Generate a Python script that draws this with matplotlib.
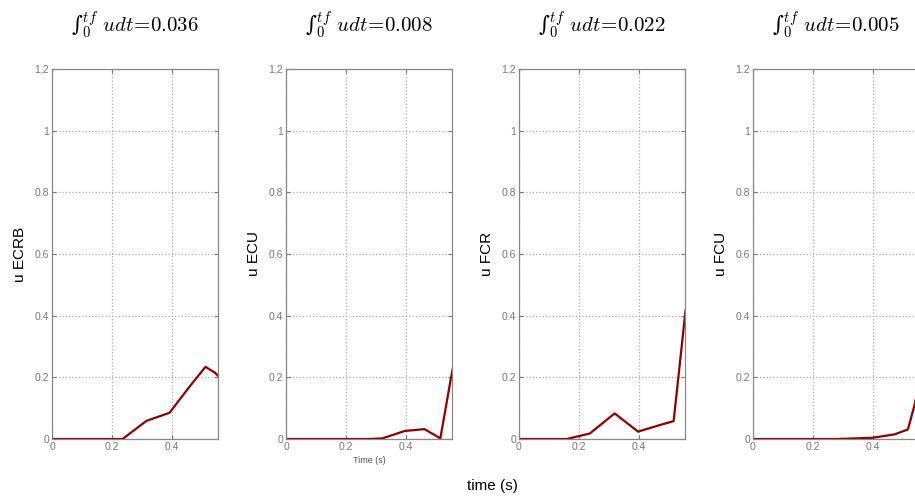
import matplotlib
matplotlib.use("Agg")
import matplotlib.pyplot as plt

plt.rcParams['mathtext.fontset'] = 'cm'
plt.rcParams['font.family'] = ['Liberation Sans', 'DejaVu Sans']

t_ecrb = [0, 0.08, 0.16, 0.236, 0.316, 0.393, 0.46, 0.513, 0.545, 0.56]
u_ecrb = [0, 0, 0, 0, 0.059, 0.085, 0.17, 0.234, 0.215, 0.2]

t_ecu = [0, 0.08, 0.16, 0.278, 0.322, 0.397, 0.463, 0.516, 0.552, 0.56]
u_ecu = [0, 0, 0, 0, 0.002, 0.026, 0.032, 0.002, 0.2, 0.24]

t_fcr = [0, 0.08, 0.16, 0.237, 0.32, 0.398, 0.47, 0.517, 0.557]
u_fcr = [0, 0, 0, 0.018, 0.083, 0.024, 0.045, 0.058, 0.418]

t_fcu = [0, 0.08, 0.16, 0.28, 0.4, 0.473, 0.518, 0.54, 0.56]
u_fcu = [0, 0, 0, 0, 0.004, 0.015, 0.031, 0.11, 0.2]

series = [(t_ecrb, u_ecrb), (t_ecu, u_ecu), (t_fcr, u_fcr), (t_fcu, u_fcu)]
ylabels = ['u ECRB', 'u ECU', 'u FCR', 'u FCU']
integrals = ['0.036', '0.008', '0.022', '0.005']
yticks = [0, 0.2, 0.4, 0.6, 0.8, 1, 1.2]
xticks = [0, 0.2, 0.4]

W, H = 915, 499
fig = plt.figure(figsize=(W / 100, H / 100), dpi=100)

lefts = [52, 286, 519, 753]
for i, (t, u) in enumerate(series):
    ax = fig.add_axes([lefts[i] / W, (H - 439) / H, 166 / W, 370 / H])
    ax.plot(t, u, color='#8b0000', lw=1.6)
    ax.set_xlim(0, 0.555)
    ax.set_ylim(0, 1.2)
    ax.set_xticks(xticks)
    ax.set_yticks(yticks)
    ax.set_xticklabels(['0', '0.2', '0.4'])
    ax.set_yticklabels(['0', '0.2', '0.4', '0.6', '0.8', '1', '1.2'])
    ax.grid(True, linestyle=':', color='#aaaaaa', lw=0.9)
    ax.tick_params(direction='in', length=3, labelsize=7.5, colors='#777777',
                   top=True, right=True, pad=2)
    for s in ax.spines.values():
        s.set_color('#888888')
        s.set_linewidth(0.9)
    ax.set_ylabel(ylabels[i], fontsize=11)
    ax.yaxis.set_label_coords(-0.15, 0.5)
    title = '\u222b' + r'$_0^{tf}\ udt\!=\!%s$' % integrals[i]
    ax.text(0.5, 1 + 44 / 370, title, transform=ax.transAxes,
            ha='center', va='center', fontsize=15, family='DejaVu Serif')
    if i == 1:
        ax.set_xlabel('Time (s)', fontsize=6.5, color='#555555', labelpad=3)

fig.text(492 / W, 1 - 486 / H, 'time (s)', fontsize=11, ha='center', va='center')

fig.savefig('out.png', dpi=100)
